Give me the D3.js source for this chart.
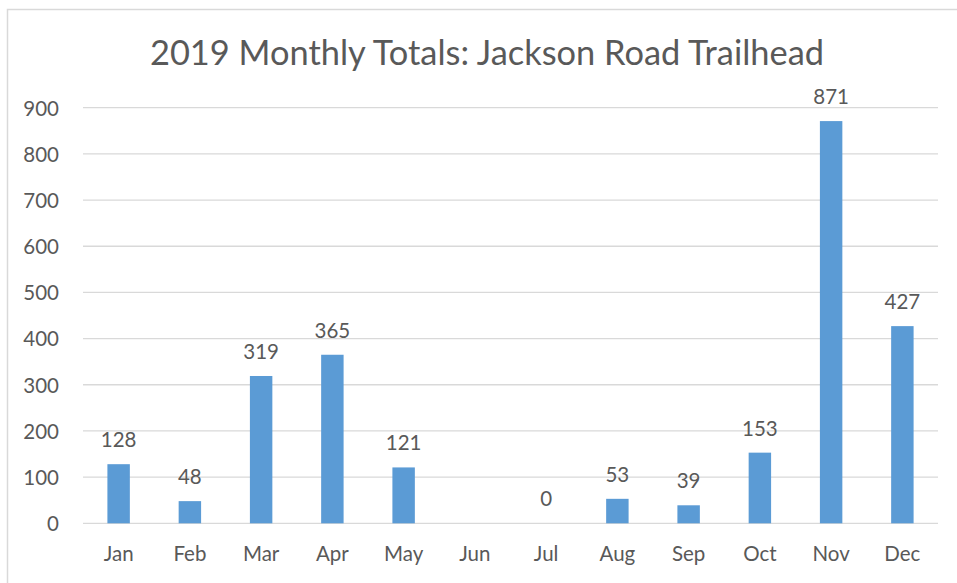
<!DOCTYPE html>
<html>
<head>
<meta charset="utf-8">
<script src="https://cdn.jsdelivr.net/npm/d3@7"></script>
<style>
  body { margin: 0; background: #fff; }
  text { font-family: Lato, "Open Sans", sans-serif; fill: #595959; }
</style>
</head>
<body>
<div id="chart"></div>
<script>

var months = ['Jan', 'Feb', 'Mar', 'Apr', 'May', 'Jun', 'Jul', 'Aug', 'Sep', 'Oct', 'Nov', 'Dec'];
// Jun has no value in the source chart
var totals = [128, 48, 319, 365, 121, null, 0, 53, 39, 153, 871, 427];
var y_ticks = [0, 100, 200, 300, 400, 500, 600, 700, 800, 900];
var title = '2019 Monthly Totals: Jackson Road Trailhead';

var chart_width  = 957;
var chart_height = 583;

var data = months.map(function(m, i) { return { month: m, value: totals[i] }; });

var svg = d3.select('#chart')
  .append('svg')
  .attr('width', chart_width)
  .attr('height', chart_height);

// outer chart border (cropped on right and bottom)
svg.append('rect')
  .attr('x', 7.5)
  .attr('y', 9.5)
  .attr('width', 1000)
  .attr('height', 1000)
  .attr('fill', 'none')
  .attr('stroke', '#d9d9d9')
  .attr('stroke-width', 1.5);

var x_scale = d3.scaleBand()
  .domain(months)
  .range([83, 938])
  .paddingInner(0.685)
  .paddingOuter(0.3425);

var y_scale = d3.scaleLinear()
  .domain([0, 900])
  .range([523.3, 107.7]);

// gridlines
svg.append('g')
  .selectAll('line')
  .data(y_ticks)
  .enter()
  .append('line')
  .attr('x1', 83)
  .attr('x2', 938)
  .attr('y1', function(d) { return y_scale(d); })
  .attr('y2', function(d) { return y_scale(d); })
  .attr('stroke', '#d9d9d9')
  .attr('stroke-width', 1.3);

// y axis labels
var y_axis = d3.axisLeft(y_scale).tickValues(y_ticks).tickSize(0).tickPadding(0);
var yg = svg.append('g')
  .attr('transform', 'translate(59,0)')
  .call(y_axis);
yg.select('.domain').remove();
yg.selectAll('text')
  .style('font-size', '20.5px')
  .attr('dy', '0.36em');

// x axis labels
var x_axis = d3.axisBottom(x_scale).tickSize(0).tickPadding(0);
var xg = svg.append('g')
  .attr('transform', 'translate(0,544)')
  .call(x_axis);
xg.select('.domain').remove();
xg.selectAll('text')
  .style('font-size', '20.5px')
  .attr('dy', '0.85em');

// bars
svg.selectAll('rect.bar')
  .data(data.filter(function(d) { return d.value !== null; }))
  .enter()
  .append('rect')
  .attr('class', 'bar')
  .attr('x', function(d) { return x_scale(d.month); })
  .attr('width', x_scale.bandwidth())
  .attr('y', function(d) { return y_scale(d.value); })
  .attr('height', function(d) { return y_scale(0) - y_scale(d.value); })
  .attr('fill', '#5b9bd5');

// data labels
svg.selectAll('text.lbl')
  .data(data.filter(function(d) { return d.value !== null; }))
  .enter()
  .append('text')
  .attr('class', 'lbl')
  .attr('x', function(d) { return x_scale(d.month) + x_scale.bandwidth() / 2; })
  .attr('y', function(d) { return y_scale(d.value) - 17; })
  .attr('text-anchor', 'middle')
  .style('font-size', '20.5px')
  .text(function(d) { return d.value; });

// title
svg.append('text')
  .attr('x', 487)
  .attr('y', 65)
  .attr('text-anchor', 'middle')
  .style('font-size', '34.4px')
  .text(title);

</script>
</body>
</html>
